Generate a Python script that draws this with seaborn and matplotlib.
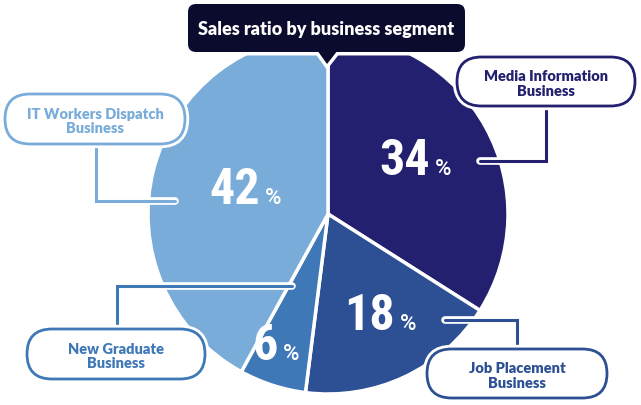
import matplotlib
matplotlib.use("Agg")
import matplotlib.pyplot as plt
import matplotlib.patheffects as pe
from matplotlib.patches import FancyBboxPatch, Polygon
import seaborn as sns

# ---- data ----
segments = ["Media Information\nBusiness", "Job Placement\nBusiness",
            "New Graduate\nBusiness", "IT Workers Dispatch\nBusiness"]
shares = [34, 18, 6, 42]
colors = ["#23216f", "#2d4f94", "#3e78b7", "#79acd9"]
title = "Sales ratio by business segment"

# ---- layout (pixel coords, y measured from top) ----
W, H = 641, 406
center = (328, 215)
radius = 180
# percent labels: right edge of number, baseline
pct_pos = [(430, 175), (395, 330), (278, 360), (260, 204)]
# label boxes: x0, y0, x1, y1
boxes = [(457, 58, 635, 107), (427, 350, 607, 399), (27, 330, 205, 380), (5, 95, 185, 145)]
# leader lines: list of points
leaders = [[(546, 107), (546, 162), (480, 162)],
           [(517, 350), (517, 321), (445, 321)],
           [(117, 330), (117, 287), (292, 287)],
           [(96, 145), (96, 202), (175, 202)]]

sns.set_theme(style="white")
plt.rcParams["font.family"] = ["Lato", "DejaVu Sans"]

fig = plt.figure(figsize=(W / 100, H / 100), dpi=100)
ax = fig.add_axes([0, 0, 1, 1])

def Y(y):
    return H - y

ax.pie(shares, colors=colors, startangle=90, counterclock=False,
       center=(center[0], Y(center[1])), radius=radius, frame=True,
       wedgeprops=dict(edgecolor="white", linewidth=2.5))
ax.set_xlim(0, W)
ax.set_ylim(0, H)
ax.set_aspect("equal")
ax.axis("off")

# percent numbers
numfont = ["Liberation Sans Narrow", "Roboto Condensed", "Roboto", "DejaVu Sans"]
for v, (x, y) in zip(shares, pct_pos):
    ax.text(x, Y(y), f"{v}", ha="right", va="baseline", color="white",
            fontsize=36, fontweight="bold", family=numfont, zorder=5)
    ax.text(x + 5, Y(y), "%", ha="left", va="baseline", color="white",
            fontsize=16, fontweight="medium", family=["Roboto", "DejaVu Sans"], zorder=5)

# leader lines
for pts, c in zip(leaders, colors):
    xs = [p[0] for p in pts]
    ys = [Y(p[1]) for p in pts]
    ax.plot(xs, ys, color=c, lw=2.2, solid_capstyle="round", solid_joinstyle="miter",
            zorder=6, path_effects=[pe.Stroke(linewidth=5.5, foreground="white"), pe.Normal()])

# label boxes
for (x0, y0, x1, y1), c, lab in zip(boxes, colors, segments):
    h = y1 - y0
    box = FancyBboxPatch((x0, Y(y1)), x1 - x0, h,
                         boxstyle=f"round,pad=0,rounding_size={h/2}",
                         facecolor="white", edgecolor=c, lw=2, zorder=7,
                         path_effects=[pe.Stroke(linewidth=6, foreground="white"), pe.Normal()])
    ax.add_patch(box)
    ax.text((x0 + x1) / 2, Y((y0 + y1) / 2 + 1.5), lab, ha="center", va="center",
            color=c, fontsize=10.5, fontweight="heavy", linespacing=1.1, zorder=8)

# title box with pointer
tx0, ty0, tx1, ty1 = 188, 5, 465, 53
tb = FancyBboxPatch((tx0, Y(ty1)), tx1 - tx0, ty1 - ty0,
                    boxstyle="round,pad=0,rounding_size=8",
                    facecolor="#0b0b2e", edgecolor="white", lw=5, zorder=9)
ax.add_patch(tb)
tri_w = Polygon([(317, Y(51)), (338, Y(51)), (327, Y(65))], closed=True,
                facecolor="#0b0b2e", edgecolor="white", lw=5, zorder=9)
ax.add_patch(tri_w)
tb2 = FancyBboxPatch((tx0, Y(ty1)), tx1 - tx0, ty1 - ty0,
                     boxstyle="round,pad=0,rounding_size=8",
                     facecolor="#0b0b2e", edgecolor="none", zorder=10)
ax.add_patch(tb2)
tri = Polygon([(317, Y(51)), (338, Y(51)), (327, Y(65))], closed=True,
              facecolor="#0b0b2e", edgecolor="none", zorder=10)
ax.add_patch(tri)
ax.text((tx0 + tx1) / 2, Y(29), title, ha="center", va="center", color="white",
        fontsize=13, fontweight="heavy", zorder=11)

fig.savefig("out.png", dpi=100, facecolor="white")
